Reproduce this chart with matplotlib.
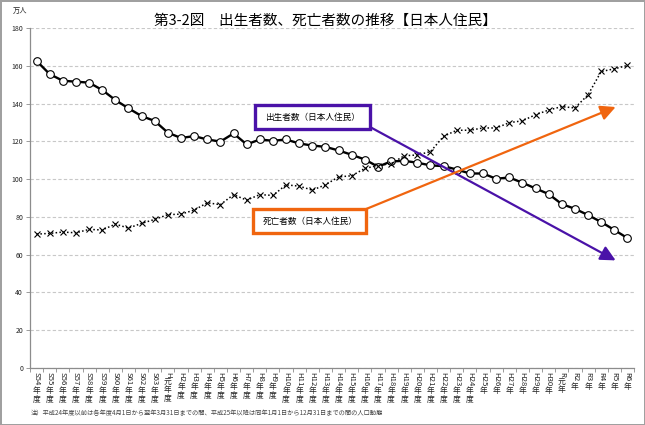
import numpy as np
import matplotlib.pyplot as plt
from matplotlib.patches import Rectangle

plt.rcParams['font.family'] = ['Noto Sans CJK JP', 'DejaVu Sans']

# categories (fiscal years up to H24, calendar years after)
labels = (['S%d年度' % y for y in range(54, 64)] + ['H元年度'] +
          ['H%d年度' % y for y in range(2, 25)] +
          ['H%d年' % y for y in range(25, 31)] + ['R元年'] +
          ['R%d年' % y for y in range(2, 7)])

# births, 万人
births = [162.6, 155.6, 152.1, 151.6, 151.1, 147.2, 141.9, 137.5, 133.4, 130.8,
          124.6, 121.8, 122.8, 121.0, 119.9, 124.2, 118.4, 121.0, 120.3, 121.0,
          118.9, 117.8, 117.1, 115.2, 112.9, 110.4, 106.6, 109.4, 109.7, 108.7,
          107.3, 106.9, 105.1, 103.0, 103.0, 100.2, 100.9, 98.1, 95.1, 92.1,
          86.8, 84.3, 81.0, 77.3, 73.1, 68.8]

# deaths, 万人
deaths = [70.9, 71.3, 72.0, 71.6, 73.4, 73.1, 76.2, 74.1, 76.6, 78.7,
          81.2, 81.5, 83.6, 87.5, 86.5, 91.8, 88.9, 91.8, 91.4, 97.0,
          96.3, 94.2, 97.0, 101.2, 101.8, 105.7, 107.2, 108.2, 112.4, 112.8,
          114.6, 122.7, 125.9, 125.9, 127.1, 127.1, 129.9, 130.9, 134.1, 136.6,
          138.4, 137.7, 144.7, 157.0, 158.4, 160.2]

x = np.arange(len(labels))

fig = plt.figure(figsize=(6.45, 4.25), dpi=100, linewidth=2, edgecolor='#a0a0a0')
ax = fig.add_axes([0.0465, 0.134, 0.9365, 0.80])

ax.plot(x, births, color='black', lw=1.7, marker='o', ms=5.5,
        mfc='white', mec='black', mew=0.8, zorder=3)
ax.plot(x, deaths, color='black', lw=1.1, ls=(0, (1, 1.5)), marker='x',
        ms=4.2, mew=0.8, zorder=3)

ax.set_xlim(-0.5, len(labels) - 0.5)
ax.set_ylim(0, 180)
ax.set_yticks(range(0, 181, 20))
ax.yaxis.grid(True, ls=(0, (3, 2)), color='#c8c8c8', lw=0.8)
ax.set_axisbelow(True)
for s in ['top', 'right']:
    ax.spines[s].set_visible(False)
for s in ['left', 'bottom']:
    ax.spines[s].set_color('#8c8c8c')
    ax.spines[s].set_linewidth(0.9)
ax.tick_params(axis='y', labelsize=5, colors='#8c8c8c', length=3, width=0.6,
               labelcolor='#222222', pad=2)
ax.set_xticks(x)
ax.set_xticklabels([])
ax.set_xticks(np.arange(-0.5, len(labels), 1), minor=True)
ax.tick_params(axis='x', which='major', length=0)
ax.tick_params(axis='x', which='minor', length=3, width=0.6, colors='#8c8c8c')

# vertical tick labels: latin part rotated, kanji part stacked upright
fs = 5.6
for i, lab in enumerate(labels):
    n = 0
    while n < len(lab) and ord(lab[n]) < 128:
        n += 1
    pre, suf = lab[:n], lab[n:]
    ax.annotate(pre, xy=(i, 0), xycoords=('data', 'axes fraction'),
                xytext=(0, -3), textcoords='offset points', rotation=-90,
                ha='center', va='top', fontsize=fs, color='#222222')
    w = 3 + 0.58 * fs * len(pre) + 1
    ax.annotate('\n'.join(suf), xy=(i, 0), xycoords=('data', 'axes fraction'),
                xytext=(0, -w), textcoords='offset points', ha='center',
                va='top', fontsize=fs, color='#222222', linespacing=1.0)

ax.text(-0.017, 1.05, '万人', transform=ax.transAxes, fontsize=5.2,
        ha='center', va='center', color='#222222')
fig.text(0.504, 0.952, '第3-2図　出生者数、死亡者数の推移【日本人住民】',
         ha='center', va='center', fontsize=10.5)
fig.text(0.047, 0.028,
         '注）平成24年度以前は各年度4月1日から翌年3月31日までの間、'
         '平成25年以降は同年1月1日から12月31日までの間の人口動態',
         ha='left', va='center', fontsize=4.5, color='#444444')

purple = '#4a12a8'
orange = '#f0650f'
ax.annotate('', xy=(44.1, 57), xytext=(25.4, 127.6),
            arrowprops=dict(arrowstyle='-|>,head_length=0.9,head_width=0.45',
                            color=purple, lw=1.6, shrinkA=0, shrinkB=0), zorder=4)
ax.annotate('', xy=(44.1, 138.2), xytext=(25.1, 84.2),
            arrowprops=dict(arrowstyle='-|>,head_length=0.9,head_width=0.45',
                            color=orange, lw=1.6, shrinkA=0, shrinkB=0), zorder=4)
ax.add_patch(Rectangle((16.6, 126.5), 8.8, 12.7, fc='white', ec=purple,
                       lw=2.4, zorder=5))
ax.add_patch(Rectangle((16.5, 71.5), 8.6, 12.7, fc='white', ec=orange,
                       lw=2.4, zorder=5))
ax.text(21.0, 132.9, '出生者数（日本人住民）', ha='center', va='center',
        fontsize=6.2, zorder=6)
ax.text(20.8, 77.8, '死亡者数（日本人住民）', ha='center', va='center',
        fontsize=6.2, zorder=6)

plt.savefig('out.png', dpi=100)
